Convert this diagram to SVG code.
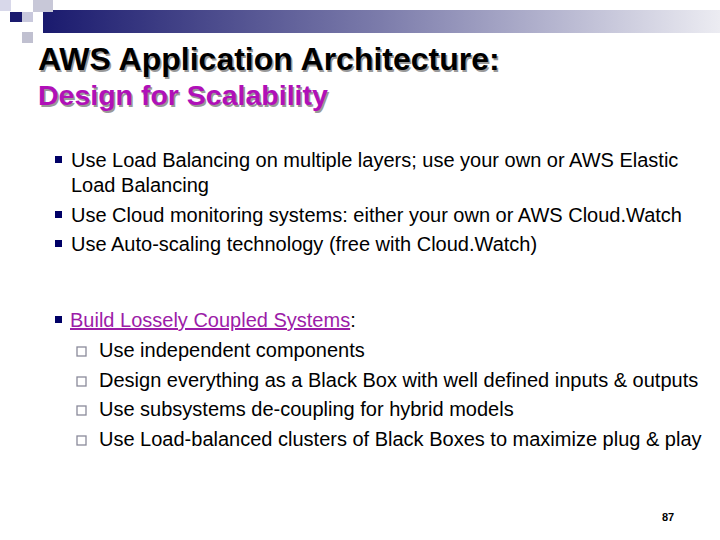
<svg xmlns="http://www.w3.org/2000/svg" width="720" height="540" viewBox="0 0 720 540">
<defs>
<linearGradient id="g" x1="0" x2="1" y1="0" y2="0"><stop offset="0" stop-color="#1a1a6e"/><stop offset="0.5" stop-color="#7c7cab"/><stop offset="1" stop-color="#ececf2"/></linearGradient>
<style>
.t{font-family:"Liberation Sans",Arial,sans-serif;font-size:20px;fill:#000}
.b{fill:#000066}
.s{fill:#fff;stroke:#8a8a9a;stroke-width:1.3}
</style>
</defs>
<rect width="720" height="540" fill="#fff"/>
<g id="decor">
<rect x="43" y="10" width="677" height="23" fill="url(#g)"/>
<rect x="0" y="0" width="11" height="11" fill="#d8d8ea"/>
<rect x="33" y="0" width="20" height="12" fill="#c8c8d8"/>
<rect x="10" y="12" width="12" height="10" fill="#1a1a6e"/>
<rect x="22" y="12" width="11" height="10" fill="#c8c8dc"/>
<rect x="22" y="32" width="11" height="11" fill="#c0c0d0"/>
</g>
<g id="title" font-family="'Liberation Sans',Arial,sans-serif" font-weight="bold">
<text x="38" y="70" font-size="32" fill="#999" transform="translate(1.5,1.5)">AWS Application Architecture:</text>
<text x="38" y="70" font-size="32" fill="#000">AWS Application Architecture:</text>
<text x="38" y="105" font-size="28.5" fill="#999" transform="translate(1.5,1.5)">Design for Scalability</text>
<text x="38" y="105" font-size="28.5" fill="#b010b8">Design for Scalability</text>
</g>
<g id="bullets">
<rect class="b" x="55" y="156" width="7" height="7"/>
<text class="t" x="71" y="167">Use Load Balancing on multiple layers; use your own or AWS Elastic</text>
<text class="t" x="71" y="192">Load Balancing</text>
<rect class="b" x="55" y="211" width="7" height="7"/>
<text class="t" x="71" y="222">Use Cloud monitoring systems: either your own or AWS Cloud.Watch</text>
<rect class="b" x="55" y="240" width="7" height="7"/>
<text class="t" x="71" y="251">Use Auto-scaling technology (free with Cloud.Watch)</text>
<rect class="b" x="55" y="316" width="7" height="7"/>
<text class="t" x="70" y="327"><tspan fill="#9c1ca8" text-decoration="underline">Build Lossely Coupled Systems</tspan>:</text>
<rect class="s" x="77" y="347" width="9" height="9"/>
<text class="t" x="99" y="357">Use independent components</text>
<rect class="s" x="77" y="377" width="9" height="9"/>
<text class="t" x="99" y="387">Design everything as a Black Box with well defined inputs &amp; outputs</text>
<rect class="s" x="77" y="406" width="9" height="9"/>
<text class="t" x="99" y="416">Use subsystems de-coupling for hybrid models</text>
<rect class="s" x="77" y="436" width="9" height="9"/>
<text class="t" x="99" y="446">Use Load-balanced clusters of Black Boxes to maximize plug &amp; play</text>
</g>
<text x="662" y="521" font-family="'Liberation Sans',Arial,sans-serif" font-size="11" font-weight="bold">87</text>
</svg>
